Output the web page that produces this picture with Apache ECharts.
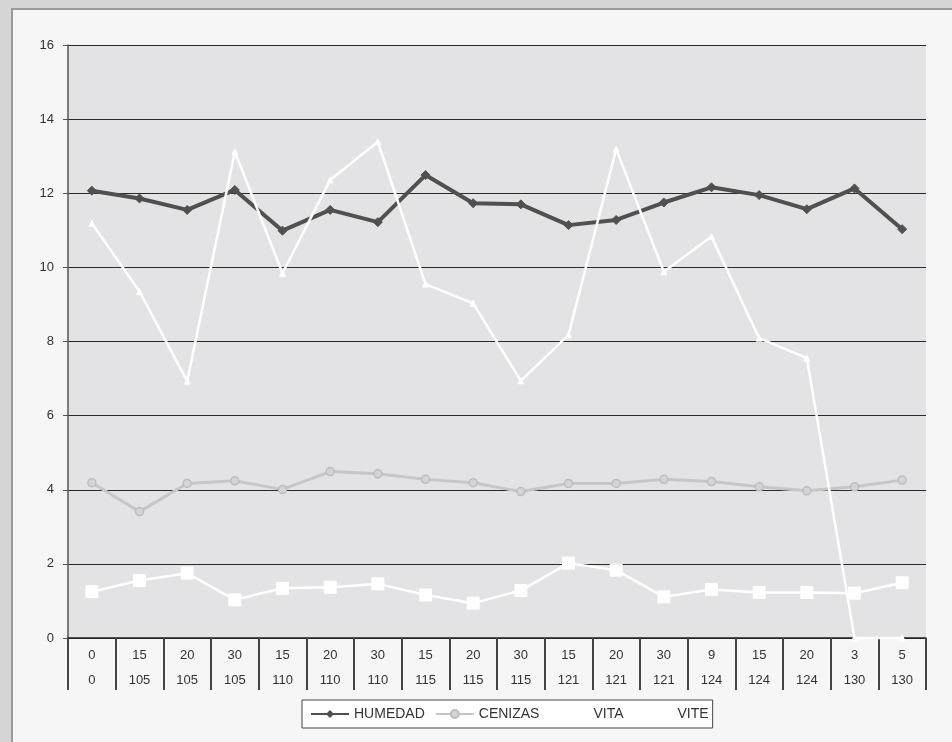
<!DOCTYPE html>
<html>
<head>
<meta charset="utf-8">
<script src="https://cdn.jsdelivr.net/npm/echarts@6/dist/echarts.min.js"></script>
<style>
  html, body { margin: 0; padding: 0; background: #d6d6d6; }
  #chart { width: 952px; height: 742px; }
</style>
</head>
<body>
<div id="chart"></div>
<script>
// Two-row category labels: top row / bottom row
const rowTop = ['0','15','20','30','15','20','30','15','20','30','15','20','30','9','15','20','3','5'];
const rowBottom = ['0','105','105','105','110','110','110','115','115','115','121','121','121','124','124','124','130','130'];

const humedad = [12.07, 11.86, 11.55, 12.09, 10.99, 11.55, 11.22, 12.49, 11.73, 11.70, 11.14, 11.28, 11.75, 12.16, 11.95, 11.57, 12.13, 11.03];
const cenizas = [4.19, 3.41, 4.17, 4.24, 4.01, 4.49, 4.43, 4.28, 4.19, 3.95, 4.17, 4.17, 4.28, 4.22, 4.08, 3.97, 4.08, 4.26];
const vita = [1.25, 1.55, 1.75, 1.03, 1.34, 1.37, 1.46, 1.16, 0.94, 1.28, 2.02, 1.83, 1.11, 1.31, 1.23, 1.23, 1.21, 1.49];
const vite = [11.19, 9.35, 6.93, 13.12, 9.84, 12.36, 13.39, 9.55, 9.03, 6.94, 8.18, 13.19, 9.88, 10.83, 8.09, 7.55, 0, 0];

const yTicks = { min: 0, max: 16, interval: 2 };

const categories = rowTop.map((t, i) => t + '\n' + rowBottom[i]);
const font = 'Liberation Sans, Arial, sans-serif';

const chart = echarts.init(document.getElementById('chart'), null, { renderer: 'canvas' });

chart.setOption({
  animation: false,
  backgroundColor: 'transparent',
  textStyle: { fontFamily: font },
  graphic: [
    {
      type: 'rect',
      z: -10,
      shape: { x: 12, y: 9, width: 960, height: 760 },
      style: { fill: '#f6f6f6', stroke: '#9a9a9a', lineWidth: 2 }
    }
  ],
  grid: {
    left: 68, top: 45, right: 26, bottom: 104,
    show: true,
    backgroundColor: '#e3e3e5',
    borderWidth: 0
  },
  legend: {
    left: 302, top: 700,
    padding: [7, 4, 7, 8],
    itemWidth: 38, itemHeight: 10, itemGap: 10,
    backgroundColor: '#ffffff',
    borderColor: '#444444', borderWidth: 1,
    textStyle: { fontFamily: font, fontSize: 14, color: '#333333' },
    data: ['HUMEDAD', 'CENIZAS', 'VITA', 'VITE']
  },
  xAxis: {
    type: 'category',
    data: categories,
    boundaryGap: true,
    axisLine: { show: true, lineStyle: { color: '#222222', width: 1.5 } },
    axisTick: { show: true, interval: 0, length: 52, lineStyle: { color: '#444444', width: 2 } },
    axisLabel: {
      interval: 0, margin: 5,
      fontFamily: font, fontSize: 13, lineHeight: 25, color: '#333333'
    },
    splitLine: { show: false }
  },
  yAxis: {
    type: 'value',
    min: yTicks.min, max: yTicks.max, interval: yTicks.interval,
    axisLine: { show: true, lineStyle: { color: '#555555', width: 1.5 } },
    axisTick: { show: true, length: 5, lineStyle: { color: '#555555' } },
    axisLabel: { fontFamily: font, fontSize: 13, color: '#333333', margin: 14 },
    splitLine: { show: true, lineStyle: { color: '#2a2a2a', width: 1.2 } }
  },
  series: [
    {
      name: 'HUMEDAD', type: 'line', data: humedad,
      symbol: 'diamond', symbolSize: 9,
      lineStyle: { color: '#505050', width: 4 },
      itemStyle: { color: '#505050', borderColor: '#505050' }
    },
    {
      name: 'CENIZAS', type: 'line', data: cenizas,
      symbol: 'circle', symbolSize: 8,
      lineStyle: { color: '#c6c6c8', width: 3 },
      itemStyle: { color: '#d4d4d6', borderColor: '#bdbdbf', borderWidth: 1.5 }
    },
    {
      name: 'VITA', type: 'line', data: vita,
      symbol: 'rect', symbolSize: 12,
      lineStyle: { color: '#ffffff', width: 2.5 },
      itemStyle: { color: '#ffffff', borderColor: '#ffffff' }
    },
    {
      name: 'VITE', type: 'line', data: vite,
      symbol: 'triangle', symbolSize: 6, clip: false,
      lineStyle: { color: '#ffffff', width: 2.5 },
      itemStyle: { color: '#ffffff', borderColor: '#ffffff' }
    }
  ]
});
</script>
</body>
</html>
